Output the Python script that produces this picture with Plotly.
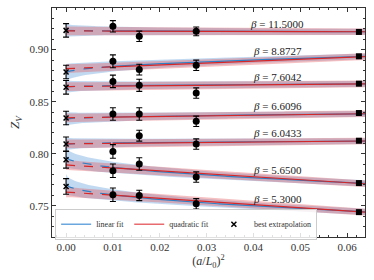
import numpy as np
import plotly.graph_objects as go

betas = ["11.5000", "8.8727", "7.6042", "6.6096", "6.0433", "5.6500", "5.3000"]
label_y = [0.9250, 0.8984, 0.8734, 0.8455, 0.8199, 0.7839, 0.7564]
label_x = 0.0451

circle_x = [0.01, 0.015625, 0.027778]
circle_y = [
    [0.9224, 0.9128, 0.9176],
    [0.8888, 0.8808, 0.8849],
    [0.8695, 0.8657, 0.8583],
    [0.8382, 0.8382, 0.8311],
    [0.8022, 0.8173, 0.8093],
    [0.7837, 0.7901, 0.7776],
    [0.7606, 0.7599, 0.7519],
]
circle_err = [
    [0.0055, 0.0050, 0.0042],
    [0.0062, 0.0052, 0.0050],
    [0.0060, 0.0058, 0.0050],
    [0.0060, 0.0060, 0.0050],
    [0.0065, 0.0052, 0.0050],
    [0.0065, 0.0060, 0.0050],
    [0.0065, 0.0050, 0.0050],
]
square_x = 0.0625
square_y = [0.9170, 0.8936, 0.8673, 0.8391, 0.8125, 0.7718, 0.7439]

extrap_y = [0.9185, 0.8785, 0.8638, 0.8343, 0.8093, 0.7942, 0.7686]
extrap_err = [0.0065, 0.0065, 0.0065, 0.0065, 0.0068, 0.0080, 0.0075]

# linear fit in a/L: Z = c0 + c1 * (a/L)
lin_c0 = [0.9185, 0.8776, 0.8643, 0.8333, 0.8093, 0.7970, 0.7710]
lin_c1 = [-0.0052, 0.0628, 0.0110, 0.0200, 0.0110, -0.1008, -0.1060]
lin_w0 = [0.0064, 0.0085, 0.0060, 0.0065, 0.0060, 0.0095, 0.0095]
lin_w1 = [0.0028, 0.0028, 0.0028, 0.0028, 0.0028, 0.0030, 0.0030]
# quadratic fit: Z = d0 + d1 * (a/L)^2
quad_d0 = [0.9180, 0.8817, 0.8645, 0.8345, 0.8095, 0.7892, 0.7632]
quad_d1 = [-0.0128, 0.1810, 0.0400, 0.0610, 0.0430, -0.2830, -0.3020]
quad_w0 = [0.0042, 0.0042, 0.0042, 0.0042, 0.0042, 0.0048, 0.0050]
quad_w1 = [0.0032, 0.0032, 0.0032, 0.0032, 0.0032, 0.0032, 0.0032]

x_min, x_max = -0.003, 0.0638
y_min, y_max = 0.720, 0.940

BLUE = "#2f7fc4"
RED = "#d62728"
BLUE_FILL = "rgba(80,150,215,0.35)"
RED_FILL = "rgba(225,75,80,0.35)"
FONT = "Liberation Serif"

fig = go.Figure()
xs = np.linspace(0.0, x_max, 200)
xe = x_max
sq = np.sqrt(xs / xe)

for i in range(len(betas)):
    bc = lin_c0[i] + lin_c1[i] * np.sqrt(xs)
    bw = lin_w1[i] + (lin_w0[i] - lin_w1[i]) * (1 - sq) ** 2
    rc = quad_d0[i] + quad_d1[i] * xs
    rw = quad_w1[i] + (quad_w0[i] - quad_w1[i]) * (1 - sq)
    for c, w, fc in [(bc, bw, BLUE_FILL), (rc, rw, RED_FILL)]:
        fig.add_trace(go.Scatter(
            x=np.concatenate([xs, xs[::-1]]),
            y=np.concatenate([c + w, (c - w)[::-1]]),
            fill="toself", fillcolor=fc, line=dict(width=0),
            mode="lines", hoverinfo="skip", showlegend=False))
    for c, col in [(bc, BLUE), (rc, RED)]:
        m1 = xs <= 0.01
        m2 = xs >= 0.0099
        fig.add_trace(go.Scatter(x=xs[m1], y=c[m1], mode="lines",
                                 line=dict(color=col, width=1.2, dash="dash"),
                                 showlegend=False, hoverinfo="skip"))
        fig.add_trace(go.Scatter(x=xs[m2], y=c[m2], mode="lines",
                                 line=dict(color=col, width=1.2),
                                 showlegend=False, hoverinfo="skip"))

for i in range(len(betas)):
    fig.add_trace(go.Scatter(
        x=circle_x, y=circle_y[i], mode="markers",
        marker=dict(color="black", size=7, symbol="circle"),
        error_y=dict(type="data", array=circle_err[i], color="black",
                     thickness=1.1, width=3),
        showlegend=False))
    fig.add_trace(go.Scatter(
        x=[square_x], y=[square_y[i]], mode="markers",
        marker=dict(color="black", size=6, symbol="square"),
        showlegend=False))
    fig.add_trace(go.Scatter(
        x=[0.0], y=[extrap_y[i]], mode="markers",
        marker=dict(color="black", size=5, symbol="x-thin",
                    line=dict(color="black", width=1.5)),
        error_y=dict(type="data", array=[extrap_err[i]], color="black",
                     thickness=1.1, width=3),
        showlegend=False))
    fig.add_annotation(x=label_x, y=label_y[i], xref="x", yref="y",
                       text="<i>β</i> = " + betas[i], showarrow=False,
                       font=dict(family=FONT, size=11, color="#222"))

# legend entries
fig.add_trace(go.Scatter(x=[None], y=[None], mode="lines",
                         line=dict(color="rgba(70,145,215,0.8)", width=1.5),
                         name="linear fit"))
fig.add_trace(go.Scatter(x=[None], y=[None], mode="lines",
                         line=dict(color="rgba(225,70,75,0.8)", width=1.5),
                         name="quadratic fit"))
fig.add_trace(go.Scatter(x=[None], y=[None], mode="markers",
                         marker=dict(color="black", size=5, symbol="x-thin",
                                     line=dict(color="black", width=1.5)),
                         name="best extrapolation"))

axis_common = dict(showgrid=False, zeroline=False, showline=True,
                   linecolor="#333", linewidth=1, mirror="allticks",
                   ticks="inside", ticklen=4, tickcolor="#333", automargin=False,
                   tickfont=dict(family=FONT, size=11, color="#333"))

fig.update_xaxes(range=[x_min, x_max], tickvals=[0, 0.01, 0.02, 0.03, 0.04, 0.05, 0.06],
                 ticktext=["0.00", "0.01", "0.02", "0.03", "0.04", "0.05", "0.06"],
                 minor=dict(dtick=0.002, ticks="inside", ticklen=2, tickcolor="#333"),
                 title=dict(text="(<i>a</i>/<i>L</i><sub>0</sub>)<sup>2</sup>",
                            font=dict(family=FONT, size=12, color="#333"), standoff=2),
                 **axis_common)
fig.update_yaxes(range=[y_min, y_max], tickvals=[0.75, 0.80, 0.85, 0.90],
                 ticktext=["0.75", "0.80", "0.85", "0.90"],
                 minor=dict(dtick=0.01, ticks="inside", ticklen=2, tickcolor="#333"),
                 title=dict(text="<i>Z</i><sub><i>V</i></sub>",
                            font=dict(family=FONT, size=13, color="#333"), standoff=6),
                 **axis_common)

fig.update_layout(
    width=374, height=280,
    margin=dict(l=52, r=9, t=8, b=43, autoexpand=False),
    plot_bgcolor="white", paper_bgcolor="white",
    legend=dict(orientation="h", x=0.01, y=-0.012, xanchor="left", yanchor="bottom",
                bgcolor="rgba(255,255,255,0.85)", bordercolor="#cccccc", borderwidth=1,
                font=dict(family=FONT, size=8, color="#333"),
                itemwidth=30, tracegroupgap=0),
    font=dict(family=FONT),
)

fig.write_html("out.html", config={"displayModeBar": False},
               post_script="document.body.style.margin='0';document.body.style.overflow='hidden';")
